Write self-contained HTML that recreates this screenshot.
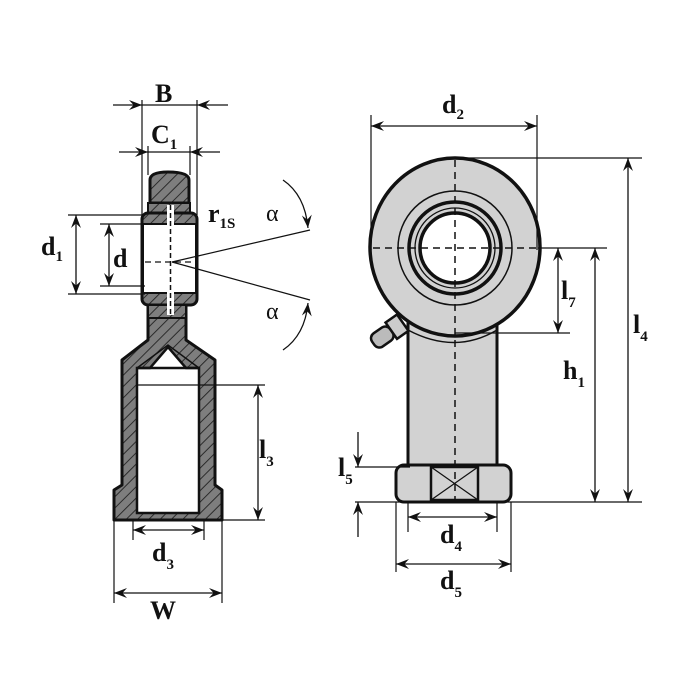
<!DOCTYPE html>
<html><head><meta charset="utf-8"><style>
html,body{margin:0;padding:0;background:#fff;width:700px;height:700px;overflow:hidden}
text{font-family:"Liberation Serif",serif;fill:#111}
</style></head><body>
<svg width="700" height="700" viewBox="0 0 700 700" xmlns="http://www.w3.org/2000/svg">
<defs>
<pattern id="h" patternUnits="userSpaceOnUse" width="8" height="8" patternTransform="rotate(45)">
<rect width="8" height="8" fill="#7e7e7e"/><line x1="0" y1="0" x2="0" y2="8" stroke="#222" stroke-width="1.8"/>
</pattern>
<marker id="a" viewBox="0 0 10 10" refX="10" refY="5" markerWidth="13" markerHeight="11" orient="auto-start-reverse" markerUnits="userSpaceOnUse" preserveAspectRatio="none"><path d="M0,0.5 L10,5 L0,9.5 L3.5,5 Z" fill="#111"/></marker>
</defs>
<g stroke="#111" fill="none">
<!-- LEFT VIEW -->
<path d="M148,305 L186,305 L186,340 L215,360 L215,485 L222,490 L222,520 L114,520 L114,490 L122,485 L122,360 L148,340 Z" fill="url(#h)" stroke-width="3" stroke-linejoin="round"/>
<path d="M137,368 L150,368 L168,347 L186,368 L199,368 L199,513 L137,513 Z" fill="#fff" stroke-width="2.5"/>
<path d="M137,368 L168,345 L199,368" fill="none" stroke-width="1.5"/>
<line x1="137" y1="368" x2="199" y2="368" stroke-width="2.5"/>
<path d="M150,180 Q150,172 168,172 Q189,172 189,180 L189,203 L150,203 Z" fill="url(#h)" stroke-width="3"/>
<rect x="148" y="203" width="42" height="10" fill="url(#h)" stroke-width="2"/>
<rect x="142" y="213" width="55" height="92" rx="6" fill="url(#h)" stroke-width="3"/>
<rect x="143" y="224" width="53" height="69" fill="#fff" stroke-width="2"/>
<rect x="148" y="305" width="38" height="13" fill="url(#h)" stroke-width="2"/>
<rect x="167" y="205" width="7" height="110" fill="#fff" stroke="none"/>
<line x1="170.5" y1="205" x2="170.5" y2="315" stroke-width="1.5" stroke-dasharray="5,3"/>
<line x1="145" y1="262" x2="196" y2="262" stroke-width="1.2" stroke-dasharray="6,4"/>
<line x1="172" y1="262" x2="310" y2="230" stroke-width="1.2"/>
<line x1="172" y1="262" x2="310" y2="300" stroke-width="1.2"/>
<path d="M283,180 Q305,195 308,228" stroke-width="1.3" marker-end="url(#a)"/>
<path d="M283,350 Q305,335 308,303" stroke-width="1.3" marker-end="url(#a)"/>
<line x1="142" y1="100" x2="142" y2="215" stroke-width="1.2"/>
<line x1="197" y1="100" x2="197" y2="215" stroke-width="1.2"/>
<line x1="113" y1="105" x2="142" y2="105" stroke-width="1.3" marker-end="url(#a)"/>
<line x1="228" y1="105" x2="197" y2="105" stroke-width="1.3" marker-end="url(#a)"/>
<line x1="142" y1="105" x2="197" y2="105" stroke-width="1.2"/>
<line x1="148" y1="146" x2="148" y2="175" stroke-width="1.2"/>
<line x1="190" y1="146" x2="190" y2="175" stroke-width="1.2"/>
<line x1="119" y1="152" x2="148" y2="152" stroke-width="1.3" marker-end="url(#a)"/>
<line x1="220" y1="152" x2="190" y2="152" stroke-width="1.3" marker-end="url(#a)"/>
<line x1="148" y1="152" x2="190" y2="152" stroke-width="1.2"/>
<line x1="68" y1="215" x2="145" y2="215" stroke-width="1.2"/>
<line x1="68" y1="294" x2="145" y2="294" stroke-width="1.2"/>
<line x1="76" y1="215" x2="76" y2="294" stroke-width="1.3" marker-start="url(#a)" marker-end="url(#a)"/>
<line x1="100" y1="224" x2="145" y2="224" stroke-width="1.2"/>
<line x1="100" y1="286" x2="145" y2="286" stroke-width="1.2"/>
<line x1="109" y1="224" x2="109" y2="286" stroke-width="1.3" marker-start="url(#a)" marker-end="url(#a)"/>
<line x1="137" y1="385" x2="265" y2="385" stroke-width="1.2"/>
<line x1="222" y1="520" x2="265" y2="520" stroke-width="1.2"/>
<line x1="258" y1="385" x2="258" y2="520" stroke-width="1.3" marker-start="url(#a)" marker-end="url(#a)"/>
<line x1="133" y1="520" x2="133" y2="540" stroke-width="1.2"/>
<line x1="204" y1="520" x2="204" y2="540" stroke-width="1.2"/>
<line x1="133" y1="530" x2="204" y2="530" stroke-width="1.3" marker-start="url(#a)" marker-end="url(#a)"/>
<line x1="114" y1="520" x2="114" y2="603" stroke-width="1.2"/>
<line x1="222" y1="520" x2="222" y2="603" stroke-width="1.2"/>
<line x1="114" y1="593" x2="222" y2="593" stroke-width="1.3" marker-start="url(#a)" marker-end="url(#a)"/>

<!-- RIGHT VIEW -->
<rect x="408" y="300" width="89" height="170" fill="#d2d2d2" stroke-width="3"/>
<g transform="translate(388,333) rotate(-35)">
<rect x="-18" y="-8" width="22" height="16" rx="6" fill="#bbb" stroke-width="2.5"/>
<rect x="4" y="-10" width="14" height="20" fill="#ccc" stroke-width="2.5"/>
</g>
<ellipse cx="455" cy="247" rx="85" ry="89" fill="#d2d2d2" stroke-width="3.5"/>
<path d="M408,330 Q455,355 497,330" stroke-width="1.5"/>
<circle cx="455" cy="248" r="57" fill="#d2d2d2" stroke-width="1.5"/>
<circle cx="455" cy="248" r="46" fill="#d2d2d2" stroke-width="3.5"/>
<circle cx="455" cy="248" r="40" fill="none" stroke-width="1.3"/>
<circle cx="455" cy="248" r="35" fill="#fff" stroke-width="3.5"/>
<rect x="396" y="465" width="115" height="37" rx="8" fill="#d2d2d2" stroke-width="3"/>
<rect x="431" y="467" width="47" height="33" fill="#d2d2d2" stroke-width="2.5"/>
<line x1="431" y1="467" x2="478" y2="500" stroke-width="1.2"/>
<line x1="478" y1="467" x2="431" y2="500" stroke-width="1.2"/>
<line x1="455" y1="160" x2="455" y2="500" stroke-width="1.5" stroke-dasharray="7,5"/>
<line x1="373" y1="248" x2="538" y2="248" stroke-width="1.5" stroke-dasharray="7,5"/>
<line x1="371" y1="115" x2="371" y2="250" stroke-width="1.2"/>
<line x1="537" y1="115" x2="537" y2="250" stroke-width="1.2"/>
<line x1="371" y1="126" x2="537" y2="126" stroke-width="1.3" marker-start="url(#a)" marker-end="url(#a)"/>
<line x1="455" y1="158" x2="642" y2="158" stroke-width="1.2"/>
<line x1="396" y1="502" x2="642" y2="502" stroke-width="1.2"/>
<line x1="628" y1="158" x2="628" y2="502" stroke-width="1.3" marker-start="url(#a)" marker-end="url(#a)"/>
<line x1="538" y1="248" x2="607" y2="248" stroke-width="1.2"/>
<line x1="595" y1="248" x2="595" y2="502" stroke-width="1.3" marker-start="url(#a)" marker-end="url(#a)"/>
<line x1="455" y1="333" x2="570" y2="333" stroke-width="1.2"/>
<line x1="558" y1="248" x2="558" y2="333" stroke-width="1.3" marker-start="url(#a)" marker-end="url(#a)"/>
<line x1="355" y1="467" x2="410" y2="467" stroke-width="1.2"/>
<line x1="358" y1="432" x2="358" y2="467" stroke-width="1.3" marker-end="url(#a)"/>
<line x1="358" y1="537" x2="358" y2="502" stroke-width="1.3" marker-end="url(#a)"/>
<line x1="355" y1="502" x2="396" y2="502" stroke-width="1.2"/>
<line x1="408" y1="502" x2="408" y2="532" stroke-width="1.2"/>
<line x1="497" y1="502" x2="497" y2="532" stroke-width="1.2"/>
<line x1="408" y1="517" x2="497" y2="517" stroke-width="1.3" marker-start="url(#a)" marker-end="url(#a)"/>
<line x1="396" y1="502" x2="396" y2="572" stroke-width="1.2"/>
<line x1="511" y1="502" x2="511" y2="572" stroke-width="1.2"/>
<line x1="396" y1="564" x2="511" y2="564" stroke-width="1.3" marker-start="url(#a)" marker-end="url(#a)"/>
</g>
<g font-weight="bold" font-size="26">
<text x="155" y="102">B</text>
<text x="151" y="143">C<tspan font-size="15" dy="6">1</tspan></text>
<text x="41" y="255">d<tspan font-size="15" dy="6">1</tspan></text>
<text x="113" y="267">d</text>
<text x="208" y="222">r<tspan font-size="15" dy="6">1S</tspan></text>
<text x="259" y="458">l<tspan font-size="15" dy="8">3</tspan></text>
<text x="152" y="561">d<tspan font-size="15" dy="8">3</tspan></text>
<text x="150" y="619">W</text>
<text x="442" y="113">d<tspan font-size="15" dy="6">2</tspan></text>
<text x="633" y="333">l<tspan font-size="15" dy="8">4</tspan></text>
<text x="563" y="379">h<tspan font-size="15" dy="8">1</tspan></text>
<text x="561" y="299">l<tspan font-size="15" dy="8">7</tspan></text>
<text x="338" y="476">l<tspan font-size="15" dy="8">5</tspan></text>
<text x="440" y="543">d<tspan font-size="15" dy="8">4</tspan></text>
<text x="440" y="589">d<tspan font-size="15" dy="8">5</tspan></text>
</g>
<text x="266" y="221" font-size="24">α</text>
<text x="266" y="319" font-size="24">α</text>
</svg>
</body></html>
